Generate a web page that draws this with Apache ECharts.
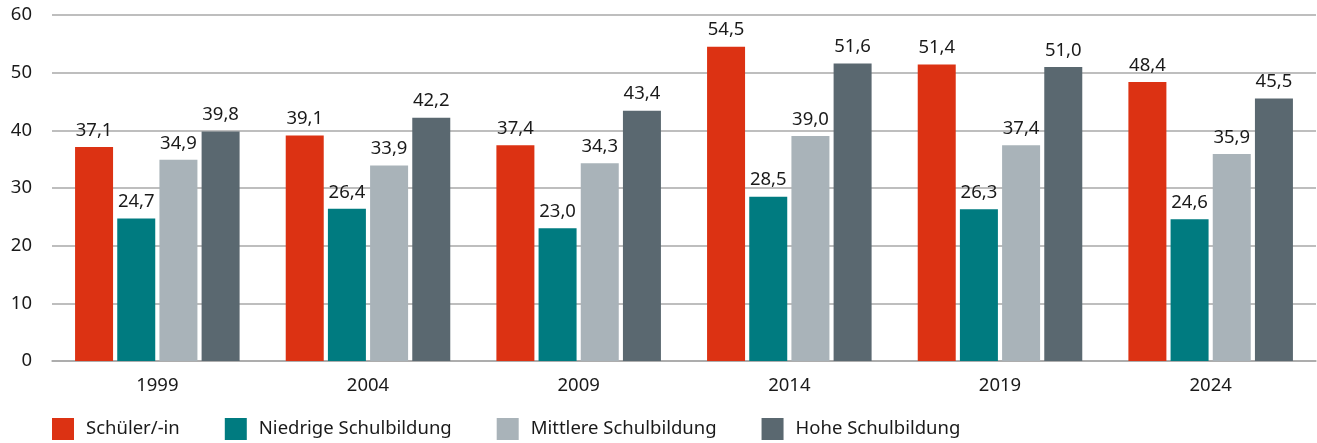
<!DOCTYPE html>
<html>
<head>
<meta charset="utf-8">
<script src="https://cdn.jsdelivr.net/npm/echarts@6/dist/echarts.min.js"></script>
<style>
  html, body { margin: 0; padding: 0; background: #fff; }
  #chart { width: 1317px; height: 443px; }
</style>
</head>
<body>
<div id="chart"></div>
<script>
// Jahre
var years = ['1999', '2004', '2009', '2014', '2019', '2024']
var seriesNames = ['Schüler/-in', 'Niedrige Schulbildung', 'Mittlere Schulbildung', 'Hohe Schulbildung']
var schueler = [37.1, 39.1, 37.4, 54.5, 51.4, 48.4]
var niedrig = [24.7, 26.4, 23.0, 28.5, 26.3, 24.6]
var mittel = [34.9, 33.9, 34.3, 39.0, 37.4, 35.9]
var hoch = [39.8, 42.2, 43.4, 51.6, 51.0, 45.5]
var colors = ['#dc3213', '#007b80', '#a9b3b9', '#5a6870']

var chart = echarts.init(document.getElementById('chart'))
var font = '"Noto Sans", sans-serif'

function makeSeries(name, data, color) {
  return {
    name: name,
    type: 'bar',
    data: data,
    barWidth: 38,
    barGap: '11%',
    itemStyle: { color: color },
    label: {
      show: true,
      position: 'top',
      distance: 7,
      color: '#1a1a1a',
      fontFamily: font,
      fontSize: 18.5,
      formatter: function (p) {
        return p.value.toFixed(1).replace('.', ',')
      }
    }
  }
}

var option = {
  animation: false,
  grid: { left: 52, right: 1, top: 15, bottom: 82 },
  legend: {
    left: 52,
    top: 418,
    padding: 0,
    itemWidth: 22,
    itemHeight: 22,
    itemGap: 45,
    icon: 'rect',
    textStyle: {
      color: '#1a1a1a',
      fontFamily: font,
      fontSize: 18.5,
      padding: [0, 0, 0, 7]
    },
    data: seriesNames
  },
  xAxis: {
    type: 'category',
    data: years,
    axisLine: { show: true, lineStyle: { color: '#a8a8a8', width: 1.5 } },
    axisTick: { show: false },
    axisLabel: { color: '#1a1a1a', fontFamily: font, fontSize: 18.5, margin: 15 }
  },
  yAxis: {
    type: 'value',
    min: 0,
    max: 60,
    interval: 10,
    axisLine: { show: false },
    axisTick: { show: false },
    axisLabel: { color: '#1a1a1a', fontFamily: font, fontSize: 18.5, margin: 20 },
    splitLine: { lineStyle: { color: '#a8a8a8', width: 1.5 } }
  },
  series: [
    makeSeries(seriesNames[0], schueler, colors[0]),
    makeSeries(seriesNames[1], niedrig, colors[1]),
    makeSeries(seriesNames[2], mittel, colors[2]),
    makeSeries(seriesNames[3], hoch, colors[3])
  ]
}

chart.setOption(option)
</script>
</body>
</html>
